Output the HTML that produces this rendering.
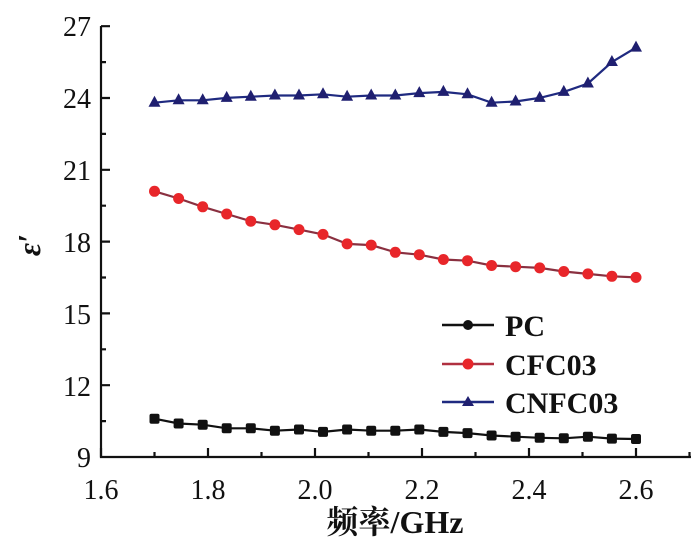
<!DOCTYPE html>
<html><head><meta charset="utf-8"><style>html,body{margin:0;padding:0;background:#fff;}</style></head>
<body>
<svg width="700" height="541" viewBox="0 0 700 541" xmlns="http://www.w3.org/2000/svg" font-family="Liberation Serif, Noto Serif CJK SC, serif">
<defs>
<marker id="ms" markerUnits="userSpaceOnUse" markerWidth="12" markerHeight="12" refX="6" refY="6" overflow="visible"><rect x="1" y="1" width="10" height="10" rx="2" fill="#111"/></marker>
<marker id="mc" markerUnits="userSpaceOnUse" markerWidth="12" markerHeight="12" refX="6" refY="6" overflow="visible"><circle cx="6" cy="6" r="5.5" fill="#e8262a"/></marker>
<marker id="mt" markerUnits="userSpaceOnUse" markerWidth="14" markerHeight="14" refX="7" refY="7" overflow="visible"><polygon points="7,0 13,11 1,11" fill="#1f1f70"/></marker>
</defs>
<g stroke="#111" stroke-width="2.2" fill="none">
<path d="M101 26 V457 H691"/>
<path d="M101 457V448M154.5 457V452M208 457V448M261.5 457V452M315 457V448M368.5 457V452M422 457V448M475.5 457V452M529 457V448M582.5 457V452M636 457V448M689.5 457V452"/>
<path d="M101 421.1H106M101 385.2H110M101 349.3H106M101 313.4H110M101 277.5H106M101 241.6H110M101 205.7H106M101 169.8H110M101 133.9H106M101 98H110M101 62.1H106M101 26.2H110"/>
</g>
<path fill="none" stroke="#111" stroke-width="2.2" marker-start="url(#ms)" marker-mid="url(#ms)" marker-end="url(#ms)" d="M154.5 418.7L178.6 423.5L202.7 424.7L226.7 428.3L250.8 428.3L274.9 430.7L299 429.5L323 431.9L347.1 429.5L371.2 430.7L395.3 430.7L419.3 429.5L443.4 431.9L467.5 433.1L491.6 435.5L515.6 436.7L539.7 437.8L563.8 438.3L587.9 436.7L611.9 438.6L636 439"/>
<path fill="none" stroke="#8a3040" stroke-width="2.2" marker-start="url(#mc)" marker-mid="url(#mc)" marker-end="url(#mc)" d="M154.5 191.3L178.6 198.5L202.7 206.8L226.7 214L250.8 221.2L274.9 224.8L299 229.6L323 234.4L347.1 243.9L371.2 245.1L395.3 252.3L419.3 254.7L443.4 259.5L467.5 260.7L491.6 265.5L515.6 266.7L539.7 267.9L563.8 271.5L587.9 273.9L611.9 276.3L636 277.4"/>
<path fill="none" stroke="#1f2a80" stroke-width="2.2" marker-start="url(#mt)" marker-mid="url(#mt)" marker-end="url(#mt)" d="M154.5 102.7L178.6 100.3L202.7 100.3L226.7 97.9L250.8 96.7L274.9 95.5L299 95.5L323 94.3L347.1 96.7L371.2 95.5L395.3 95.5L419.3 93.1L443.4 91.9L467.5 94.3L491.6 102.7L515.6 101.5L539.7 97.9L563.8 91.9L587.9 83.5L611.9 62L636 47.6"/>
<g font-size="28" fill="#111" text-anchor="end">
<text x="91" y="36">27</text><text x="91" y="108">24</text><text x="91" y="180">21</text>
<text x="91" y="252">18</text><text x="91" y="324">15</text><text x="91" y="396">12</text><text x="91" y="467">9</text>
</g>
<g font-size="28" fill="#111" text-anchor="middle">
<text x="101" y="499">1.6</text><text x="208" y="499">1.8</text><text x="315" y="499">2.0</text>
<text x="422" y="499">2.2</text><text x="529" y="499">2.4</text><text x="636" y="499">2.6</text>
</g>
<text x="395" y="533" font-size="32" font-weight="bold" text-anchor="middle" fill="#111">频率/GHz</text>
<text transform="translate(40,245) rotate(-90)" font-size="32" font-style="italic" font-weight="bold" text-anchor="middle" fill="#111">ε′</text>
<g font-size="30" font-weight="bold" fill="#111">
<line x1="442" y1="325" x2="494" y2="325" stroke="#111" stroke-width="2.5"/><circle cx="468" cy="325" r="5" fill="#111"/>
<text x="505" y="336">PC</text>
<line x1="442" y1="364" x2="494" y2="364" stroke="#b03040" stroke-width="2.5"/><circle cx="468" cy="364" r="5.5" fill="#e8262a"/>
<text x="505" y="375">CFC03</text>
<line x1="442" y1="402" x2="494" y2="402" stroke="#1f2a80" stroke-width="2.5"/><polygon points="468,396 474,406 462,406" fill="#1f1f70"/>
<text x="505" y="413">CNFC03</text>
</g>
</svg>
</body></html>
